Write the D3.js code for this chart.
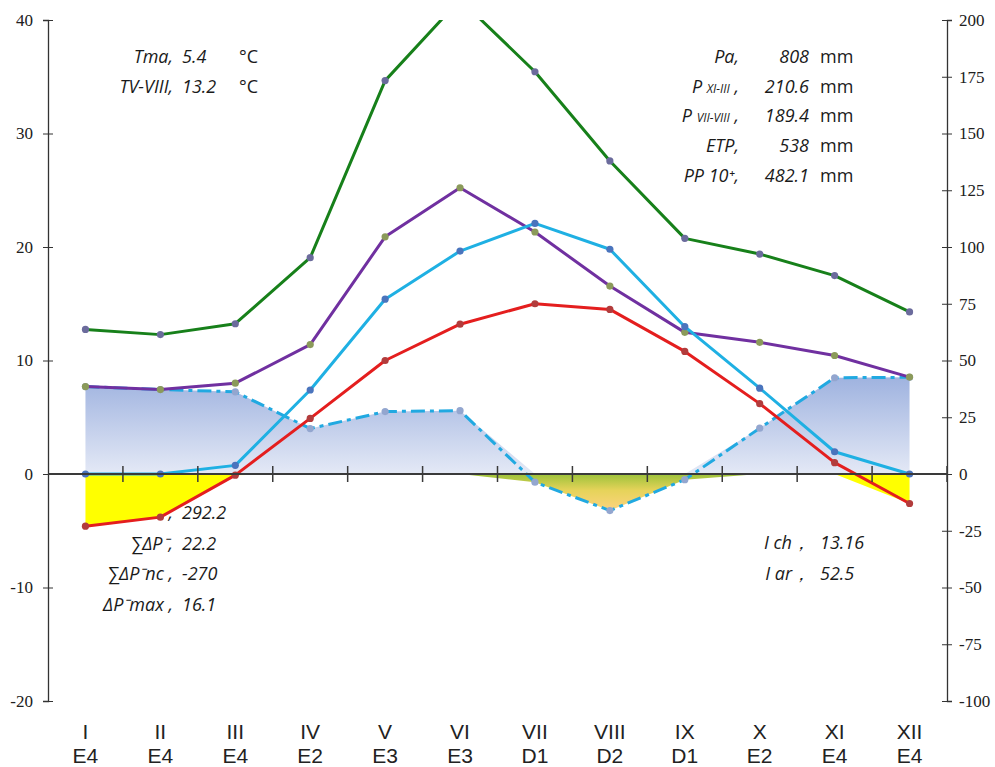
<!DOCTYPE html>
<html>
<head>
<meta charset="utf-8">
<script src="https://cdn.jsdelivr.net/npm/d3@7"></script>
<style>
    body { margin: 0; background: #ffffff; }
    svg { display: block; }
    .month-label { font-family: "Liberation Sans Narrow", "Arial Narrow", "Liberation Sans", sans-serif; font-size: 21px; fill: #222222; }
    .note { font-family: "Open Sans", sans-serif; font-style: italic; font-size: 18px; fill: #1a1a1a; }
    .unit { font-family: "Open Sans", sans-serif; font-size: 18px; fill: #1a1a1a; }
</style>
</head>
<body>
<svg id="chart" width="995" height="767"></svg>
<script>
// Months and the moisture class written under each month.
var months = ["I", "II", "III", "IV", "V", "VI", "VII", "VIII", "IX", "X", "XI", "XII"];
var moistureClasses = ["E4", "E4", "E4", "E2", "E3", "E3", "D1", "D2", "D1", "E2", "E4", "E4"];

// Mean monthly temperature, °C (left axis).
var temperature = [-4.6, -3.8, -0.1, 4.9, 10.0, 13.2, 15.0, 14.5, 10.8, 6.2, 1.0, -2.6];
// Negative part of the temperature, drawn as the yellow area (left axis).
var frostPart = [-4.6, -3.8, -0.1, 0, 0, 0, 0, 0, 0, 0, 0, -2.6];

// Monthly precipitation, mm (right axis).
var precipitation = [38.5, 37.2, 40.0, 57.0, 104.5, 126.1, 106.6, 82.8, 62.4, 58.0, 52.2, 42.7];
// Upper precipitation curve (green), mm (right axis).
var precipitationHigh = [63.7, 61.4, 66.2, 95.3, 173.3, 209.0, 177.2, 137.9, 103.8, 96.9, 87.4, 71.4];
// Potential evapotranspiration, mm (right axis).
var evapotranspiration = [0, 0, 3.8, 37.0, 77.0, 98.2, 110.4, 99.0, 64.9, 37.8, 9.8, 0];
// Water balance P - ETP, mm (right axis), with its positive and negative parts.
var waterBalance = [38.5, 37.2, 36.2, 20.0, 27.5, 27.9, -3.6, -16.1, -2.5, 20.2, 42.4, 42.6];
var balanceSurplus = [38.5, 37.2, 36.2, 20.0, 27.5, 27.9, 0, 0, 0, 20.2, 42.4, 42.6];
var balanceDeficit = [0, 0, 0, 0, 0, 0, -3.6, -16.1, -2.5, 0, 0, 0];

// Tick labels of the two value axes.
var leftTicks = [-20, -10, 0, 10, 20, 30, 40];
var rightTicks = [-100, -75, -50, -25, 0, 25, 50, 75, 100, 125, 150, 175, 200];

// Annotation texts.
var temperatureNotes = [["Tma,", "5.4"], ["TV-VIII,", "13.2"]];
var precipitationNotes = [["Pa,", "808"], ["P|XI-III|,", "210.6"], ["P|VII-VIII|,", "189.4"], ["ETP,", "538"], ["PP 10⁺,", "482.1"]];
var deficitNotes = [[",", "292.2"], ["∑ΔP⁻,", "22.2"], ["∑ΔP⁻nc ,", "-270"], ["ΔP⁻max ,", "16.1"]];
var indexNotes = [["I ch，", "13.16"], ["I ar，", "52.5"]];

var svg = d3.select("#chart");

var plotLeft = 48, plotRight = 947, plotTop = 20, plotBottom = 701;

// Scales: months are bands, left axis in °C, right axis in mm (5 mm per °C).
var x = d3.scaleBand().domain(months).range([plotLeft, plotRight]);
var yLeft = d3.scaleLinear().domain([-20, 40]).range([plotBottom, plotTop]);
var yRight = d3.scaleLinear().domain([-100, 200]).range([plotBottom, plotTop]);

function cx(i) {
    return x(months[i]) + x.bandwidth() / 2;
}

// Gradients for the water balance areas.
var defs = svg.append("defs");
var blueGradient = defs.append("linearGradient")
    .attr("id", "surplus-fill")
    .attr("gradientUnits", "userSpaceOnUse")
    .attr("x1", 0).attr("x2", 0)
    .attr("y1", yRight(43)).attr("y2", yRight(0));
blueGradient.append("stop").attr("offset", 0).attr("stop-color", "#9eb2df");
blueGradient.append("stop").attr("offset", 1).attr("stop-color", "#e4e9f6");
var deficitGradient = defs.append("linearGradient")
    .attr("id", "deficit-fill")
    .attr("gradientUnits", "userSpaceOnUse")
    .attr("x1", 0).attr("x2", 0)
    .attr("y1", yRight(0)).attr("y2", yRight(-16.1));
deficitGradient.append("stop").attr("offset", 0).attr("stop-color", "#9cc23a");
deficitGradient.append("stop").attr("offset", 0.45).attr("stop-color", "#e6d35a");
deficitGradient.append("stop").attr("offset", 1).attr("stop-color", "#fdd37f");
defs.append("clipPath").attr("id", "plot-clip")
    .append("rect")
    .attr("x", plotLeft).attr("y", plotTop)
    .attr("width", plotRight - plotLeft).attr("height", plotBottom - plotTop);

var plot = svg.append("g").attr("clip-path", "url(#plot-clip)");

// Areas first, so that the axes and lines sit on top of them.
function drawArea(values, scale, fill) {
    var area = d3.area()
        .x(function (d, i) { return cx(i); })
        .y0(scale(0))
        .y1(function (d) { return scale(d); });
    plot.append("path")
        .datum(values)
        .attr("d", area)
        .attr("fill", fill);
}
drawArea(balanceSurplus, yRight, "url(#surplus-fill)");
drawArea(balanceDeficit, yRight, "url(#deficit-fill)");
drawArea(frostPart, yLeft, "#ffff00");

// Plain hyphen for negative numbers, as in the original.
function plainNumber(d) {
    return String(d);
}

// Left axis with ticks crossing the line.
var leftAxis = svg.append("g")
    .attr("transform", "translate(" + plotLeft + ",0)")
    .call(d3.axisLeft(yLeft).tickValues(leftTicks).tickSize(5).tickPadding(10).tickFormat(plainNumber))
    .attr("font-family", "'Liberation Serif', 'Times New Roman', serif")
    .attr("font-size", 17);
leftAxis.selectAll(".tick line").attr("x1", 5).attr("stroke", "#333333");
leftAxis.select(".domain").attr("stroke", "#333333").attr("stroke-width", 1.3);
leftAxis.selectAll(".tick text").attr("fill", "#202020");

// Right axis.
var rightAxis = svg.append("g")
    .attr("transform", "translate(" + plotRight + ",0)")
    .call(d3.axisRight(yRight).tickValues(rightTicks).tickSize(5).tickPadding(7).tickFormat(plainNumber))
    .attr("font-family", "'Liberation Serif', 'Times New Roman', serif")
    .attr("font-size", 17);
rightAxis.selectAll(".tick line").attr("x1", -5).attr("stroke", "#333333");
rightAxis.select(".domain").attr("stroke", "#333333").attr("stroke-width", 1.3);
rightAxis.selectAll(".tick text").attr("fill", "#202020");

// Zero line with ticks between months.
svg.append("line")
    .attr("x1", plotLeft).attr("x2", plotRight)
    .attr("y1", yLeft(0)).attr("y2", yLeft(0))
    .attr("stroke", "#3a3a3a").attr("stroke-width", 2);
svg.selectAll(".month-tick")
    .data(months.slice(1).concat(["end"]))
    .enter()
    .append("line")
    .attr("class", "month-tick")
    .attr("x1", function (d) { return d === "end" ? plotRight : x(d); })
    .attr("x2", function (d) { return d === "end" ? plotRight : x(d); })
    .attr("y1", yLeft(0) - 8).attr("y2", yLeft(0) + 8)
    .attr("stroke", "#3a3a3a").attr("stroke-width", 1.5);

// Month labels, two lines each.
var monthLabels = svg.selectAll(".month")
    .data(months)
    .enter()
    .append("g")
    .attr("class", "month");
monthLabels.append("text")
    .attr("class", "month-label")
    .attr("x", function (d, i) { return cx(i); })
    .attr("y", 739)
    .attr("text-anchor", "middle")
    .text(function (d) { return d; });
monthLabels.append("text")
    .attr("class", "month-label")
    .attr("x", function (d, i) { return cx(i); })
    .attr("y", 762.5)
    .attr("text-anchor", "middle")
    .text(function (d, i) { return moistureClasses[i]; });

// Lines with small round markers.
function drawSeries(values, scale, stroke, marker, dash) {
    var line = d3.line()
        .x(function (d, i) { return cx(i); })
        .y(function (d) { return scale(d); });
    plot.append("path")
        .datum(values)
        .attr("d", line)
        .attr("fill", "none")
        .attr("stroke", stroke)
        .attr("stroke-width", 3)
        .attr("stroke-linejoin", "round")
        .attr("stroke-dasharray", dash || null);
    plot.selectAll(null)
        .data(values)
        .enter()
        .append("circle")
        .attr("cx", function (d, i) { return cx(i); })
        .attr("cy", function (d) { return scale(d); })
        .attr("r", 3.6)
        .attr("fill", marker);
}
drawSeries(waterBalance, yRight, "#21a9e1", "#93a6cf", "14,5,4,5");
drawSeries(precipitationHigh, yRight, "#17801a", "#6b6b9c");
drawSeries(precipitation, yRight, "#7030a0", "#8b9a5a");
drawSeries(evapotranspiration, yRight, "#1fb0e3", "#4a74bd");
drawSeries(temperature, yLeft, "#e41e1e", "#b23c3c");

// Annotation blocks: label right-aligned, value beside it.
function drawNotes(rows, labelRight, valueX, valueAnchor, firstBaseline, step, unit, unitX) {
    rows.forEach(function (row, i) {
        var y = firstBaseline + i * step;
        var label = svg.append("text")
            .attr("class", "note")
            .attr("x", labelRight).attr("y", y)
            .attr("text-anchor", "end");
        var parts = row[0].split("|");
        if (parts.length === 3) {
            label.append("tspan").text(parts[0] + " ");
            label.append("tspan").attr("font-size", 12).text(parts[1]);
            label.append("tspan").text(" " + parts[2]);
        } else {
            label.text(row[0]);
        }
        svg.append("text")
            .attr("class", "note")
            .attr("x", valueX).attr("y", y)
            .attr("text-anchor", valueAnchor)
            .text(row[1]);
        if (unit) {
            svg.append("text")
                .attr("class", "unit")
                .attr("x", unitX).attr("y", y)
                .text(unit);
        }
    });
}
drawNotes(temperatureNotes, 173, 182, "start", 63, 30, "°C", 239);
drawNotes(precipitationNotes, 739, 809, "end", 63, 29.7, "mm", 820);
drawNotes(deficitNotes, 173, 182, "start", 519, 30.6);
drawNotes(indexNotes, 810, 820, "start", 549, 31);
</script>
</body>
</html>
